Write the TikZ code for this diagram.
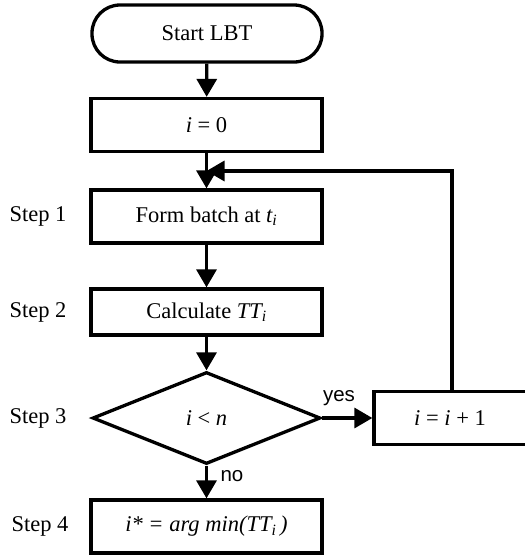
\documentclass[tikz,border=0pt]{standalone}
\usepackage{fontspec}
\setmainfont{Liberation Serif}
\newfontfamily\labelsans{Liberation Sans}
\usetikzlibrary{arrows.meta,shapes.geometric}
\begin{document}
\begin{tikzpicture}[x=1pt,y=-1pt,line width=3.3pt,
  txt/.style={font=\fontsize{22.5}{26}\selectfont},
  box/.style={txt,draw,rectangle,minimum width=231pt,minimum height=53pt,inner sep=0pt},
  term/.style={txt,draw,rectangle,rounded corners=28pt,minimum width=230pt,minimum height=57pt,inner sep=0pt},
  decision/.style={txt,draw,diamond,minimum width=228pt,minimum height=92pt,inner sep=0pt},
  flow/.style={-{Triangle[length=18pt,width=20pt]}},
  steplabel/.style={txt,anchor=center},
  answer/.style={font=\labelsans\fontsize{20.5}{23}\selectfont,inner sep=0pt}]
\useasboundingbox (0,0) rectangle (525,555);

\node[term] (start) at (207,33.5) {Start LBT};
\node[box] (init) at (206.5,125) {\textit{i} = 0};
\node[box] (s1) at (206.5,216.5) {Form batch at \textit{t\textsubscript{i}}};
\node[box,minimum height=46pt] (s2) at (206.5,312) {Calculate \textit{TT\textsubscript{i}}};
\node[decision] (dec) at (206.5,418) {\textit{i} {<} \textit{n}};
\node[box,minimum width=200pt] (inc) at (474,418) {};
\node[txt] (inctext) at (450,418) {\textit{i} = \textit{i} + 1};
\node[box] (s4) at (206.5,526.5) {\textit{i* = arg min(TT\textsubscript{i}\,)}};

\node[steplabel] (l1) at (38,216.5) {Step 1};
\node[steplabel] (l2) at (38,312) {Step 2};
\node[steplabel] (l3) at (38,418) {Step 3};
\node[steplabel] (l4) at (40,526.5) {Step 4};

\node[answer] (yes) at (339,398) {yes};
\node[answer] (no) at (232,476) {no};

\coordinate (loopend) at (206.5,171);
\coordinate (loopstart) at (452,391);
\coordinate (loopcorner) at (loopstart |- loopend);

\draw[flow] (start) -- (init);
\draw[flow] (init) -- (s1);
\draw[flow] (s1) -- (s2);
\draw[flow] (s2) -- (dec);
\draw[flow] (dec.east) -- (inc.west);
\draw[flow] (dec.south) -- (s4.north);
\draw[flow] (loopstart) -- (loopcorner) -- (loopend);
\end{tikzpicture}
\end{document}
